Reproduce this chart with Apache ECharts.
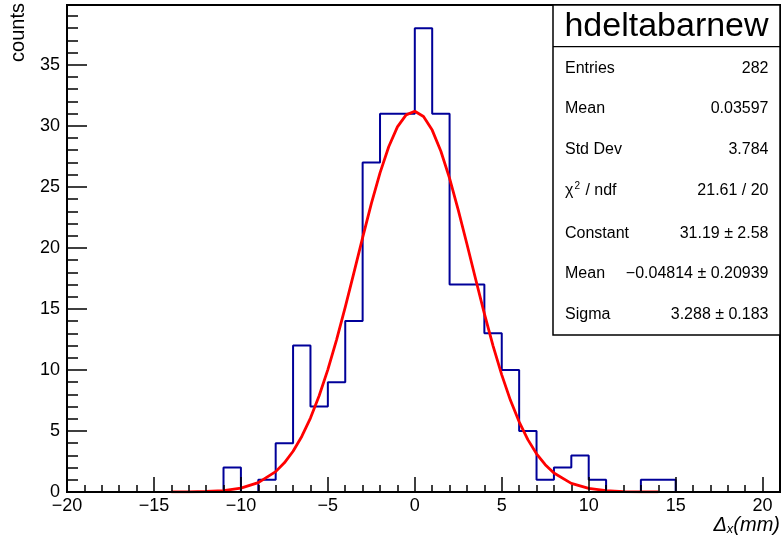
<!DOCTYPE html>
<html>
<head>
<meta charset="utf-8">
<script src="https://cdn.jsdelivr.net/npm/echarts@6/dist/echarts.min.js"></script>
<style>
html,body{margin:0;padding:0;background:#fff;}
#chart{width:781px;height:543px;}
</style>
</head>
<body>
<div id="chart"></div>
<script>
// Histogram: 41 bins of width 1 from -20 to 21
const binStart = -20;
const binWidth = 1;
const counts = [
  0,0,0,0,0,0,0,0,0,      // -20 .. -12
  2,0,1,4,12,7,9,14,27,31,31, // -11 .. -1
  38,31,17,17,13,10,5,1,2,3,1,0,0,1,1, // 0 .. 14
  0,0,0,0,0,0             // 15 .. 20
];
// Fitted Gaussian curve
const fitX = [-14,-13,-12,-11,-10,-9,-8,-7.5,-7,-6.5,-6,-5.5,-5,-4.5,-4,-3.5,-3,-2.5,-2,-1.5,-1,-0.5,0,0.5,1,1.5,2,2.5,3,3.5,4,4.5,5,5.5,6,6.5,7,7.5,8,9,10,11,12,13,14];
const fitY = [0.004,0.013,0.042,0.12,0.32,0.77,1.67,2.39,3.34,4.55,6.06,7.89,10.03,12.47,15.15,17.98,20.84,23.62,26.15,28.29,29.91,30.90,31.19,30.76,29.65,27.92,25.69,23.10,20.30,17.43,14.62,11.98,9.60,7.51,5.75,4.29,3.13,2.24,1.56,0.71,0.29,0.11,0.038,0.012,0.003];
// Stats box
const statsTitle = 'hdeltabarnew';
const statsLabels = ['Entries','Mean','Std Dev','{l|χ}{sup|2}{l| / ndf}','Constant','Mean','Sigma'];
const statsValues = ['282','0.03597','3.784','21.61 / 20','31.19 ± 2.58','−0.04814 ± 0.20939','3.288 ± 0.183'];
const xTitle = '{i|Δ}{sub|x}{i|(mm)}';
const yTitle = 'counts';

const histData = counts.map((c, i) => [binStart + i * binWidth, c]);
histData.push([binStart + counts.length * binWidth, counts[counts.length - 1]]);
const fitData = fitX.map((x, i) => [x, fitY[i]]);

const FONT = '"Liberation Sans", Arial, Helvetica, sans-serif';
const fmt = v => (v < 0 ? '\u2212' + Math.abs(v) : String(v));

const chart = echarts.init(document.getElementById('chart'), null, {renderer: 'canvas'});

const graphics = [];
const boxX = 553, boxY = 5, boxW = 227, boxH = 330;
graphics.push({type:'rect', shape:{x:boxX, y:boxY, width:boxW, height:boxH}, style:{fill:'#fff', stroke:'#000', lineWidth:1.5}, z:100});
graphics.push({type:'line', shape:{x1:boxX, y1:46.7, x2:boxX+boxW, y2:46.7}, style:{stroke:'#000', lineWidth:1.2}, z:101});
graphics.push({type:'text', x:boxX + boxW/2, y:26.5, style:{text:statsTitle, font:'34px ' + FONT, fill:'#000', align:'center', verticalAlign:'middle'}, z:102});
const rowY = [68.3, 108.3, 150, 190.7, 233.3, 274, 315];
statsLabels.forEach((t, i) => {
  graphics.push({type:'text', x:565, y:rowY[i], style:{text:t, font:'16px ' + FONT, fill:'#000', align:'left', verticalAlign:'middle',
    rich:{l:{fontSize:16, fontFamily:FONT}, sup:{fontSize:10, fontFamily:FONT, verticalAlign:'top', padding:[0,1,8,1]}}}, z:102});
  graphics.push({type:'text', x:768.5, y:rowY[i], style:{text:statsValues[i], font:'16px ' + FONT, fill:'#000', align:'right', verticalAlign:'middle'}, z:102});
});
graphics.push({type:'text', x:780, y:525, style:{text:xTitle, fill:'#000', align:'right', verticalAlign:'middle',
  rich:{i:{fontSize:20, fontStyle:'italic', fontFamily:FONT}, sub:{fontSize:13, fontStyle:'italic', fontFamily:FONT, padding:[9,0,0,0]}}}, z:50});
graphics.push({type:'text', x:18, y:3, rotation:Math.PI/2, style:{text:yTitle, font:'20px ' + FONT, fill:'#000', align:'right', verticalAlign:'middle'}, z:50});

chart.setOption({
  animation: false,
  backgroundColor: '#fff',
  grid: {left:67, right:1, top:5, bottom:51, show:true, borderColor:'#000', borderWidth:2, backgroundColor:'transparent'},
  xAxis: {
    type:'value', min:-20, max:21, interval:5, z:10,
    axisLine:{onZero:false, lineStyle:{color:'#000', width:2}},
    axisTick:{inside:true, length:15, lineStyle:{color:'#000', width:1.5}},
    minorTick:{show:true, splitNumber:5, length:7, lineStyle:{color:'#000', width:1.5}},
    splitLine:{show:false},
    axisLabel:{color:'#000', fontSize:18, fontFamily:FONT, margin:5, showMaxLabel:false, formatter: v => fmt(v)}
  },
  yAxis: {
    type:'value', min:0, max:39.9, interval:5, z:10,
    axisLine:{show:true, onZero:false, lineStyle:{color:'#000', width:2}},
    axisTick:{show:true, inside:true, length:20, lineStyle:{color:'#000', width:1.5}},
    minorTick:{show:true, splitNumber:5, length:11, lineStyle:{color:'#000', width:1.5}},
    splitLine:{show:false},
    axisLabel:{color:'#000', fontSize:18, fontFamily:FONT, margin:7, showMaxLabel:false}
  },
  series: [
    {type:'line', data:histData, step:'end', symbol:'none', lineStyle:{color:'#000099', width:2}, z:3},
    {type:'line', data:fitData, smooth:false, symbol:'none', lineStyle:{color:'#ff0000', width:2.8, join:'round'}, z:4}
  ],
  graphic: graphics
});
</script>
</body>
</html>
